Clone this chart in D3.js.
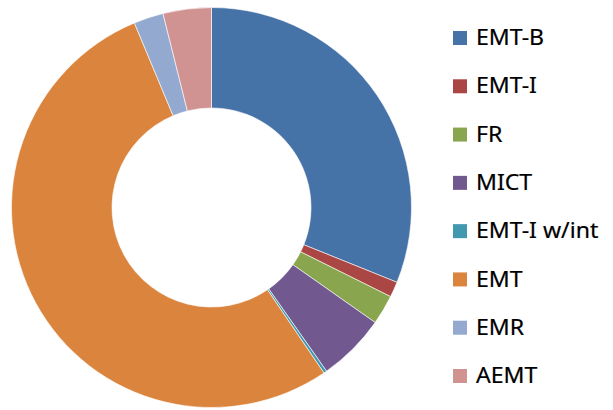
<!DOCTYPE html>
<html>
<head>
<meta charset="utf-8">
<script src="https://cdn.jsdelivr.net/npm/d3@7"></script>
<style>
  html, body { margin: 0; padding: 0; background: #fff; }
  svg { display: block; }
</style>
</head>
<body>
<svg id="chart" width="613" height="410"></svg>
<script>
// Share of certifications by level (percent)
const categories = ["EMT-B", "EMT-I", "FR", "MICT", "EMT-I w/int", "EMT", "EMR", "AEMT"];
const values = [31.1, 1.25, 2.4, 5.5, 0.25, 53.2, 2.4, 3.9];
const colors = ["#4572A7", "#AA4643", "#89A54E", "#71588F", "#4198AF", "#DB843D", "#93A9CF", "#D19392"];

const svg = d3.select("#chart");
const cx = 211.5, cy = 207.5, outerR = 200, innerR = 99.5;

const color = d3.scaleOrdinal().domain(categories).range(colors);

const pie = d3.pie().sort(null).value(d => d.value);
const arc = d3.arc().innerRadius(innerR).outerRadius(outerR);

const data = categories.map((c, i) => ({ name: c, value: values[i] }));

svg.append("g")
  .attr("transform", `translate(${cx},${cy})`)
  .selectAll("path")
  .data(pie(data))
  .join("path")
  .attr("d", arc)
  .attr("fill", d => color(d.data.name))
  .attr("stroke", "#fff")
  .attr("stroke-width", 0.6);

// Legend
const legendY = d3.scalePoint().domain(categories).range([38, 376]);
const legend = svg.append("g");
const item = legend.selectAll("g")
  .data(categories)
  .join("g")
  .attr("transform", d => `translate(453,${legendY(d)})`);

item.append("rect")
  .attr("x", 0).attr("y", -7)
  .attr("width", 14).attr("height", 14)
  .attr("fill", d => color(d));

item.append("text")
  .attr("transform", "translate(23,7.2) scale(1.1,1)")
  .attr("font-family", "'Noto Sans', sans-serif")
  .attr("font-size", 21)
  .attr("fill", "#000")
  .attr("stroke", "#000")
  .attr("stroke-width", 0.2)
  .text(d => d);
</script>
</body>
</html>
